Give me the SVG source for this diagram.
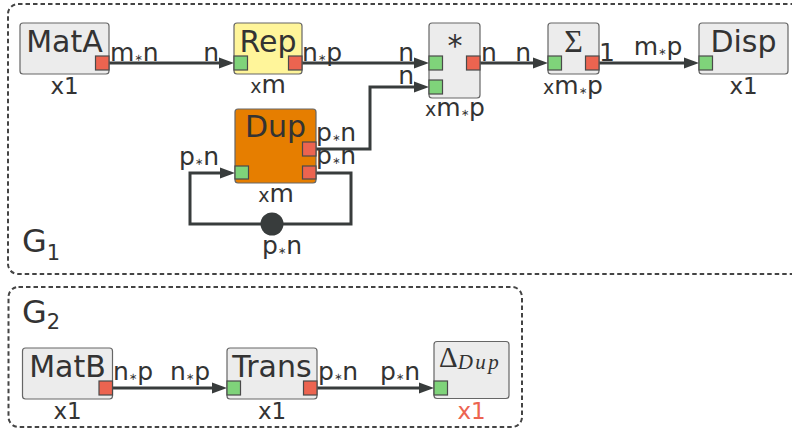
<svg xmlns="http://www.w3.org/2000/svg" width="792" height="430" viewBox="0 0 792 430">
<defs>
<style>
text{font-family:"DejaVu Sans","Liberation Sans",sans-serif;fill:#333;}
text.serif{font-family:"Liberation Serif","DejaVu Serif",serif;}
.grp{fill:none;stroke:#444;stroke-width:2;stroke-dasharray:4.5 3;}
.node{fill:#ececec;stroke:#666;stroke-width:1.2;}
.rep{fill:#fff59a;}
.dup{fill:#e67e00;}
.in{fill:#7fd37a;stroke:#4a4a4a;stroke-width:1.2;}
.out{fill:#ec6450;stroke:#4a4a4a;stroke-width:1.2;}
.edge{fill:none;stroke:#383c3c;stroke-width:3;}
.title{font-size:30px;text-anchor:middle;}
.lab{font-size:25px;}
.cnt{font-size:23px;text-anchor:middle;}
.cm{font-size:25px;text-anchor:middle;}
.s{font-size:10px;}
.sx{font-size:19px;}
.red{fill:#ec6450;}
.glbl{font-size:32px;}
.gsub{font-size:21px;}
</style>
<marker id="arr" markerUnits="userSpaceOnUse" markerWidth="15" markerHeight="12" refX="10" refY="6" orient="auto">
<path d="M0,0.5 L15,6 L0,11.5 z" fill="#383c3c"/>
</marker>
</defs>
<rect width="792" height="430" fill="#fff"/>

<g id="G1">
<rect class="grp" x="8" y="4" width="800" height="270" rx="10"/>
<text class="glbl" x="22" y="252">G<tspan class="gsub" dy="8">1</tspan></text>
</g>
<g id="G2">
<rect class="grp" x="8.5" y="287" width="513.5" height="140" rx="10"/>
<text class="glbl" x="22" y="323">G<tspan class="gsub" dy="6">2</tspan></text>
</g>

<g id="connectors">
<path class="edge" d="M109,63 H229" marker-end="url(#arr)"/>
<path class="edge" d="M302,63 H424" marker-end="url(#arr)"/>
<path class="edge" d="M480,63 H543" marker-end="url(#arr)"/>
<path class="edge" d="M599,63 H694" marker-end="url(#arr)"/>
<path class="edge" d="M316,149 H370 V87 H424" marker-end="url(#arr)"/>
<path class="edge" d="M316,173 H351 V224 H190 V173 H230" marker-end="url(#arr)"/>
<circle cx="272" cy="224" r="11.5" fill="#383c3c"/>
<path class="edge" d="M112,388 H222" marker-end="url(#arr)"/>
<path class="edge" d="M317,388 H429" marker-end="url(#arr)"/>

<text class="lab" x="110" y="61">m<tspan class="s">∗</tspan>n</text>
<text class="lab" x="219" y="61" text-anchor="end">n</text>
<text class="lab" x="302" y="61">n<tspan class="s">∗</tspan>p</text>
<text class="lab" x="414" y="61" text-anchor="end">n</text>
<text class="lab" x="414" y="84" text-anchor="end">n</text>
<text class="lab" x="481" y="61">n</text>
<text class="lab" x="531" y="61" text-anchor="end">n</text>
<text class="lab" x="599" y="61">1</text>
<text class="lab" x="658" y="55" text-anchor="middle">m<tspan class="s">∗</tspan>p</text>
<text class="lab" x="316" y="141">p<tspan class="s">∗</tspan>n</text>
<text class="lab" x="316" y="164">p<tspan class="s">∗</tspan>n</text>
<text class="lab" x="219" y="165" text-anchor="end">p<tspan class="s">∗</tspan>n</text>
<text class="lab" x="282" y="254" text-anchor="middle">p<tspan class="s">∗</tspan>n</text>
<text class="lab" x="113" y="380">n<tspan class="s">∗</tspan>p</text>
<text class="lab" x="210" y="380" text-anchor="end">n<tspan class="s">∗</tspan>p</text>
<text class="lab" x="318" y="380">p<tspan class="s">∗</tspan>n</text>
<text class="lab" x="420" y="380" text-anchor="end">p<tspan class="s">∗</tspan>n</text>
</g>

<g id="MatA">
<rect class="node" x="20" y="23" width="89" height="51" rx="3"/>
<text class="title" x="64.5" y="52">MatA</text>
<rect class="out" x="95.5" y="56" width="13.5" height="14"/>
<text class="cnt" x="64.5" y="94">x1</text>
</g>
<g id="Rep">
<rect class="node rep" x="234" y="23" width="68" height="51" rx="3"/>
<text class="title" x="268" y="52">Rep</text>
<rect class="in" x="234" y="56" width="13.5" height="14"/>
<rect class="out" x="288.5" y="56" width="13.5" height="14"/>
<text class="cm" x="268" y="93"><tspan class="sx">x</tspan>m</text>
</g>
<g id="Mul">
<rect class="node" x="429" y="23" width="51" height="75" rx="3"/>
<text class="title" x="455" y="56">*</text>
<rect class="in" x="429" y="56" width="13.5" height="14"/>
<rect class="in" x="429" y="80" width="13.5" height="14"/>
<rect class="out" x="466.5" y="56" width="13.5" height="14"/>
<text class="cm" x="455" y="116"><tspan class="sx">x</tspan>m<tspan class="s">∗</tspan>p</text>
</g>
<g id="Sum">
<rect class="node" x="548" y="23" width="51" height="51" rx="3"/>
<text class="serif" x="573.5" y="52" font-size="32" text-anchor="middle">Σ</text>
<rect class="in" x="548" y="56" width="13.5" height="14"/>
<rect class="out" x="585.5" y="56" width="13.5" height="14"/>
<text class="cm" x="573" y="94"><tspan class="sx">x</tspan>m<tspan class="s">∗</tspan>p</text>
</g>
<g id="Disp">
<rect class="node" x="699" y="23" width="89" height="51" rx="3"/>
<text class="title" x="743.5" y="52">Disp</text>
<rect class="in" x="699" y="56" width="13.5" height="14"/>
<text class="cnt" x="743.5" y="94">x1</text>
</g>
<g id="Dup">
<rect class="node dup" x="235" y="109" width="81" height="74" rx="3"/>
<text class="title" x="275.5" y="137">Dup</text>
<rect class="out" x="302.5" y="142" width="13.5" height="14"/>
<rect class="out" x="302.5" y="166" width="13.5" height="13"/>
<rect class="in" x="235" y="166" width="13.5" height="13"/>
<text class="cm" x="276" y="202"><tspan class="sx">x</tspan>m</text>
</g>

<g id="MatB">
<rect class="node" x="22.5" y="348" width="90" height="51" rx="3"/>
<text class="title" x="67.5" y="377">MatB</text>
<rect class="out" x="99" y="381" width="13.5" height="14"/>
<text class="cnt" x="67.5" y="419">x1</text>
</g>
<g id="Trans">
<rect class="node" x="227" y="348" width="90" height="51" rx="3"/>
<text class="title" x="272" y="377">Trans</text>
<rect class="in" x="227" y="381" width="13.5" height="14"/>
<rect class="out" x="303.5" y="381" width="13.5" height="14"/>
<text class="cnt" x="272" y="419">x1</text>
</g>
<g id="DeltaDup">
<rect class="node" x="434" y="341.5" width="75" height="57" rx="3"/>
<text class="serif" x="439" y="367" font-size="29">Δ<tspan font-style="italic" font-size="21" letter-spacing="2.5" dy="2">Dup</tspan></text>
<rect class="in" x="434" y="381" width="13.5" height="14"/>
<text class="cnt red" x="471.5" y="419">x1</text>
</g>
</svg>
